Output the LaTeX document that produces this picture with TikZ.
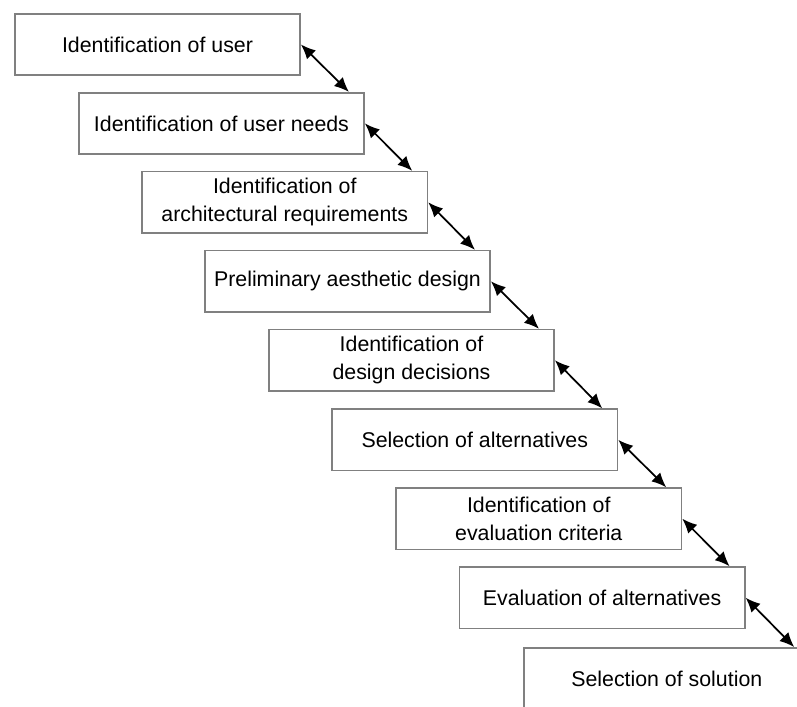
\documentclass[tikz,border=0pt]{standalone}
\usepackage{fontspec}
\setsansfont{Liberation Sans}
\usepackage{tikz}
\usetikzlibrary{arrows.meta,positioning}

\begin{document}
\begin{tikzpicture}[
        node distance=12pt,
        every node/.style={align=center, font=\sffamily\fontsize{16}{21}\selectfont},
        stage/.style={rectangle, draw=black!50, line width=1.2pt, fill=white, minimum width=214pt, minimum height=46pt, inner sep=2pt},
        link/.style={{Latex[length=11pt,width=9.5pt]}-{Latex[length=11pt,width=9.5pt]}, line width=1.3pt, black}
    ]
        \useasboundingbox (0,0) rectangle (597.75pt,-530.25pt);

        % Nodes
        \node[stage, anchor=north west] (user) at (10.5pt,-9.75pt) {Identification of user};
        \node[stage, below=of user, xshift=48pt] (needs) {Identification of user needs};
        \node[stage, below=of needs, xshift=47.5pt] (archreq) {Identification of\\architectural requirements};
        \node[stage, below=of archreq, xshift=47pt] (aesthetic) {Preliminary aesthetic design};
        \node[stage, below=of aesthetic, xshift=48pt] (decisions) {Identification of\\design decisions};
        \node[stage, below=12.5pt of decisions, xshift=47.5pt] (alternatives) {Selection of alternatives};
        \node[stage, below=of alternatives, xshift=48pt] (criteria) {Identification of\\evaluation criteria};
        \node[stage, below=of criteria, xshift=47.5pt] (evaluation) {Evaluation of alternatives};
        \node[stage, below=13.5pt of evaluation, xshift=48.5pt] (solution) {Selection of solution};

        % Connections
        \draw[link] (user.east) -- ([xshift=-12pt]needs.north east);
        \draw[link] (needs.east) -- ([xshift=-12pt]archreq.north east);
        \draw[link] (archreq.east) -- ([xshift=-12pt]aesthetic.north east);
        \draw[link] (aesthetic.east) -- ([xshift=-12pt]decisions.north east);
        \draw[link] (decisions.east) -- ([xshift=-12pt]alternatives.north east);
        \draw[link] (alternatives.east) -- ([xshift=-12pt]criteria.north east);
        \draw[link] (criteria.east) -- ([xshift=-12pt]evaluation.north east);
        \draw[link] (evaluation.east) -- ([xshift=-12pt]solution.north east);

    \end{tikzpicture}
\end{document}
